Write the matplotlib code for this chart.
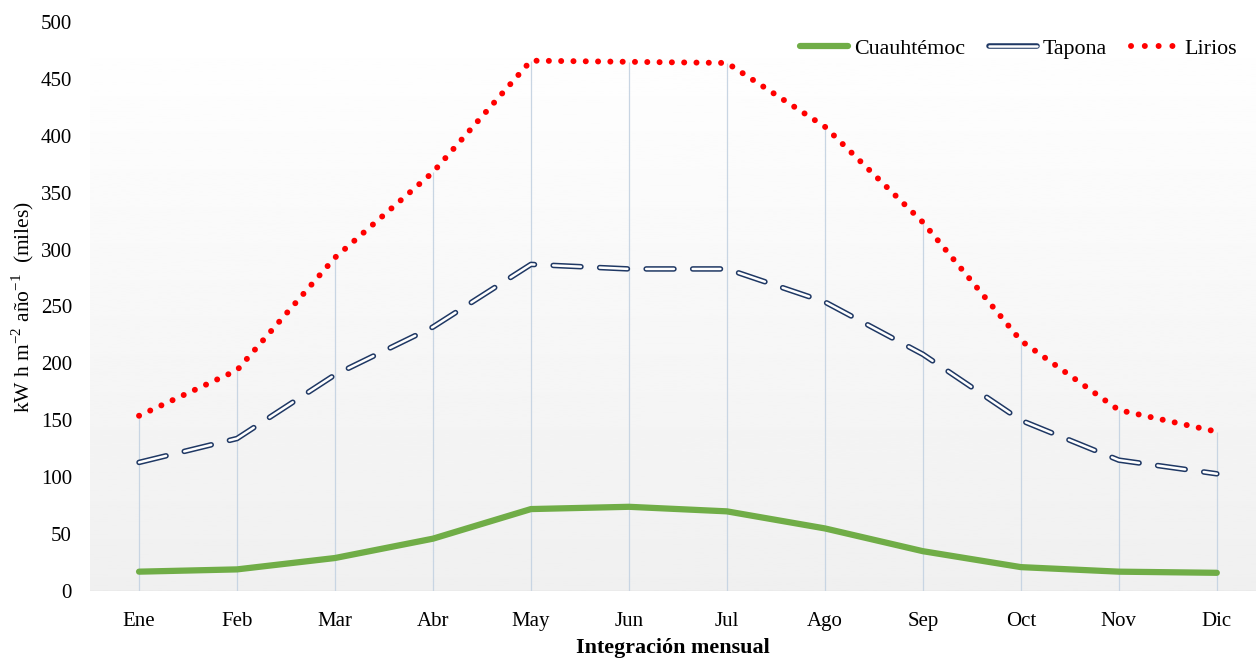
import matplotlib.pyplot as plt
import numpy as np

plt.rcParams['font.family'] = ['Liberation Serif', 'DejaVu Serif']
plt.rcParams['font.size'] = 15

meses = ['Ene', 'Feb', 'Mar', 'Abr', 'May', 'Jun', 'Jul', 'Ago', 'Sep', 'Oct', 'Nov', 'Dic']
cuauhtemoc = [17, 19, 29, 46, 72, 74, 70, 55, 35, 21, 17, 16]
tapona = [113, 134, 190, 232, 287, 283, 283, 254, 208, 150, 115, 103]
lirios = [154, 194, 293, 368, 466, 465, 464, 408, 324, 220, 159, 140]
yticks = list(range(0, 501, 50))

fig = plt.figure(figsize=(12.56, 6.58), dpi=100)
ax = fig.add_axes([0.0717, 0.1018, 0.9283, 0.8648])

x = np.arange(len(meses))
xmax = 11.4

# gradient background: white at the top, light gray at the bottom
grad = np.linspace(1.0, 0.94, 256).reshape(-1, 1)
ax.imshow(grad, extent=[-0.5, xmax, 0, 500], aspect='auto', cmap='gray',
          vmin=0, vmax=1, zorder=0, origin='upper')
ax.set_xlim(-0.5, xmax)
ax.set_ylim(0, 500)

# drop lines from the top series
ax.vlines(x, 0, lirios, color='#c8d5e3', linewidth=0.9, zorder=1)
ax.axhline(0, color='#d9d9d9', linewidth=1, zorder=1)

ax.plot(x, cuauhtemoc, color='#70ad47', linewidth=4.5, solid_capstyle='round',
        zorder=3)
# double-line dashes: dark outline with a white core
ax.plot(x, tapona, color='#1f3864', linewidth=4.0, dashes=(5.0, 3.375),
        dash_capstyle='round', zorder=3)
ax.plot(x, tapona, color='white', linewidth=1.8, dashes=(11.11, 7.5),
        dash_capstyle='round', zorder=4)
ax.plot(x, lirios, color='#ff0000', linewidth=4.3, dashes=(0.01, 2.05),
        dash_capstyle='round', zorder=3)

# legend proxies
h1, = ax.plot([], [], color='#70ad47', linewidth=4.5, solid_capstyle='round')
h2a, = ax.plot([], [], color='#1f3864', linewidth=4.0, solid_capstyle='round')
h2b, = ax.plot([], [], color='white', linewidth=1.8, solid_capstyle='round')
h3, = ax.plot([], [], color='#ff0000', linewidth=4.3, dashes=(0.01, 2.3),
              dash_capstyle='round')
ax.legend([h1, (h2a, h2b), h3], ['Cuauhtémoc', 'Tapona', 'Lirios'],
          loc='center right', bbox_to_anchor=(0.984, 0.953), ncol=3, frameon=False,
          fontsize=15.8, handlelength=2.2, handletextpad=0.25, columnspacing=1.1,
          borderaxespad=0, borderpad=0)

ax.set_xticks(x)
ax.set_xticklabels(meses)
ax.set_yticks(yticks)
ax.tick_params(length=0, labelsize=15, pad=15)
ax.tick_params(axis='y', pad=13)
for s in ax.spines.values():
    s.set_visible(False)

ax.set_ylabel('kW h m$^{\\mathregular{-2}}$ año$^{\\mathregular{-1}}$  (miles)',
              fontsize=15.5, labelpad=3)
ax.set_xlabel('Integración mensual', fontsize=15.8, fontweight='bold', labelpad=5)

fig.savefig('out.png', dpi=100)
